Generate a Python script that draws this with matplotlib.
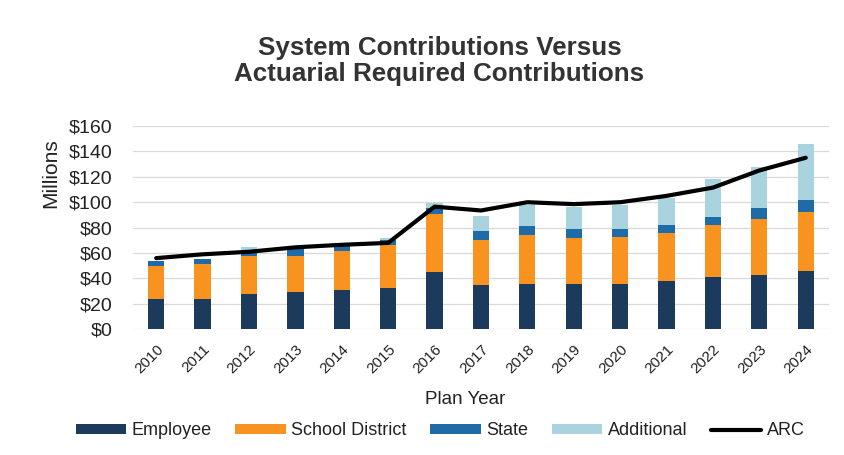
import matplotlib
matplotlib.use("Agg")
import matplotlib.pyplot as plt
import numpy as np

plt.rcParams['font.family'] = ['Liberation Sans', 'DejaVu Sans']

years = ['2010', '2011', '2012', '2013', '2014', '2015', '2016', '2017',
         '2018', '2019', '2020', '2021', '2022', '2023', '2024']
employee = [24, 24, 27.5, 29, 31, 32.5, 45, 34.5, 36, 36, 36, 38, 41.5, 43, 46]
school_district = [25.5, 27, 30.5, 29, 31, 33.5, 46, 36, 38, 36, 36.5, 37.5, 40.5, 44, 46]
state = [4.5, 4.5, 2, 5, 6, 4.5, 4.5, 6.5, 7, 7, 6.5, 6.5, 6.5, 8.5, 9.5]
additional = [0, 0, 5, 0, 0, 1.5, 3.5, 12, 17, 17.5, 18.5, 21, 29.5, 32, 44.5]
arc = [56, 59, 61, 64.5, 66.5, 68, 96.5, 93.5, 100, 98.5, 100, 105, 111.5, 125, 135]

colors = {
    'Employee': '#1B3A5C',
    'School District': '#F7931E',
    'State': '#1F6BA8',
    'Additional': '#A9D3DF',
}

fig = plt.figure(figsize=(8.45, 4.55), dpi=100)
ax = fig.add_axes([0.1574, 0.2763, 0.8236, 0.4468])

x = np.arange(len(years))
w = 0.35
bottom = np.zeros(len(years))
handles = []
for name, vals in [('Employee', employee), ('School District', school_district),
                   ('State', state), ('Additional', additional)]:
    v = np.array(vals, dtype=float)
    b = ax.bar(x, v, w, bottom=bottom, color=colors[name], label=name, zorder=2)
    handles.append(b)
    bottom += v

line, = ax.plot(x, arc, color='black', lw=3, label='ARC', zorder=3,
                solid_capstyle='round')
handles.append(line)

ax.set_xlim(-0.5, len(years) - 0.5)
ax.set_ylim(0, 160)
ax.set_yticks(range(0, 161, 20))
ax.set_yticklabels([f'${v}' for v in range(0, 161, 20)], fontsize=14, color='#222222')
ax.set_xticks(x)
ax.set_xticklabels(years, rotation=45, ha='right', rotation_mode='anchor',
                   fontsize=11, color='#222222')
ax.tick_params(axis='y', length=0, pad=15)
ax.tick_params(axis='x', length=0, pad=9)
ax.yaxis.grid(True, color='#d9d9d9', lw=0.9, zorder=0)
for s in ax.spines.values():
    s.set_visible(False)

ax.set_ylabel('Millions', fontsize=15, color='#222222')
ax.yaxis.set_label_coords(-0.104, 0.77)
fig.text(0.551, 0.121, 'Plan Year', ha='center', va='center', fontsize=13.5,
         color='#222222')

fig.text(0.52, 0.866, 'System Contributions Versus\nActuarial Required Contributions',
         ha='center', va='center', fontsize=18.7, fontweight='bold', color='#333333',
         linespacing=1.15)

leg = fig.legend(handles, [h.get_label() for h in handles], loc='center',
                 bbox_to_anchor=(0.521, 0.053), ncol=5, frameon=False, fontsize=13,
                 handlelength=2.8, handleheight=0.5, columnspacing=1.3,
                 handletextpad=0.3)
for t in leg.get_texts():
    t.set_color('#222222')

fig.savefig('out.png', dpi=100, facecolor='white')
